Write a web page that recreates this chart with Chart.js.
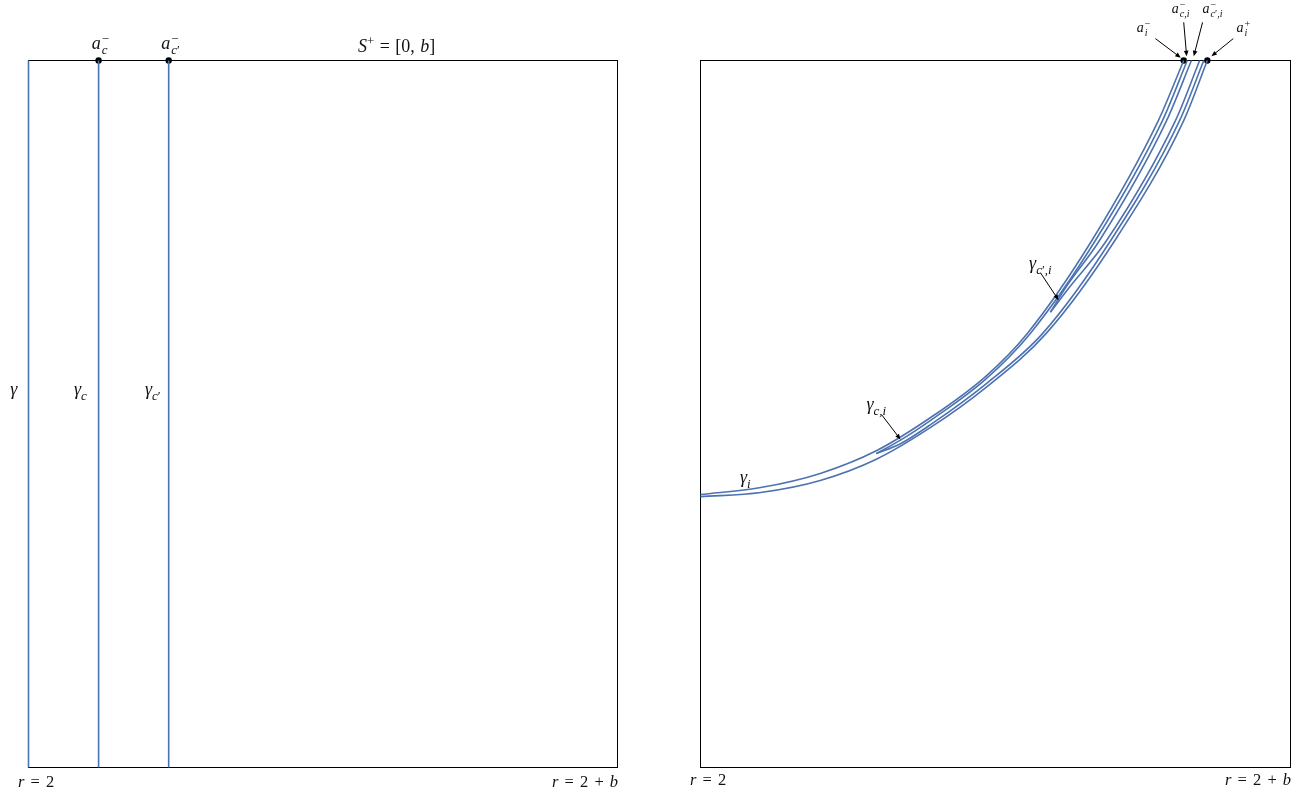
<!DOCTYPE html>
<html>
<head>
<meta charset="utf-8">
<script src="https://cdn.jsdelivr.net/npm/chart.js@4"></script>
<style>
  body { margin: 0; background: #fff; width: 1302px; height: 793px; position: relative; overflow: hidden; }
  canvas { position: absolute; top: 0; }
  #left { left: 0; }
  #right { left: 651px; }
  .lbl { position: absolute; font-family: "Liberation Serif", "DejaVu Serif", serif; font-style: italic; font-size: 18px;
         white-space: nowrap; transform: translate(-50%, -50%); color: #111; line-height: 1; word-spacing: 1px; }
  .lbl.small { font-size: 14px; }
  .lbl.axis { font-size: 16.5px; word-spacing: 2px; }
  .up { font-style: normal; }
  .lbl sub, .lbl sup { font-size: 0.72em; line-height: 0; }
  .ss { display: inline-block; font-size: 0.72em; line-height: 0.85; vertical-align: -0.35em; margin-left: 1px; text-align: left; }
  .ss > span { display: block; }
</style>
</head>
<body>
<canvas id="left" width="651" height="793"></canvas>
<canvas id="right" width="651" height="793"></canvas>
<script>
const blue = '#4c72b0';

// left panel: vertical curves gamma, gamma_c, gamma_c' at r-offsets (fraction of b)
const leftCurveX = [0, 0.119, 0.238];
const leftDotX = [0.119, 0.238];

// right panel: the six bent curves (x = (r-2)/b, y = height fraction)
const gammaUpperX = [0, 0.102, 0.203, 0.298, 0.390, 0.483, 0.554, 0.663, 0.776, 0.819];
const gammaUpperY = [0.386, 0.396, 0.416, 0.448, 0.495, 0.553, 0.614, 0.745, 0.915, 1.000];
const gammaLowerX = [0, 0.102, 0.203, 0.298, 0.390, 0.483, 0.586, 0.702, 0.819, 0.859];
const gammaLowerY = [0.383, 0.389, 0.406, 0.436, 0.481, 0.537, 0.614, 0.745, 0.915, 1.000];
const cUpperX = [0.298, 0.339, 0.390, 0.483, 0.559, 0.669, 0.783, 0.825];
const cUpperY = [0.444, 0.463, 0.491, 0.549, 0.614, 0.745, 0.915, 1.000];
const cLowerX = [0.298, 0.339, 0.390, 0.483, 0.580, 0.695, 0.812, 0.853];
const cLowerY = [0.444, 0.458, 0.485, 0.542, 0.614, 0.745, 0.915, 1.000];
const cpUpperX = [0.593, 0.619, 0.676, 0.790, 0.832];
const cpUpperY = [0.644, 0.679, 0.745, 0.915, 1.000];
const cpLowerX = [0.593, 0.625, 0.688, 0.805, 0.846];
const cpLowerY = [0.644, 0.679, 0.745, 0.915, 1.000];
const rightDotX = [0.819, 0.859];

function ss(sup, sub) {
  return '<span class="ss"><span class="up">' + sup + '</span><span>' + sub + '</span></span>';
}

const leftLabels = [
  { x: 0.122, y: 1.023, html: 'a' + ss('−', 'c') },
  { x: 0.241, y: 1.023, html: 'a' + ss('−', 'c<span class="up">′</span>') },
  { x: 0.625, y: 1.021, html: 'S<sup class="up">+</sup><span class="up"> = [0, </span>b<span class="up">]</span>' },
  { x: -0.025, y: 0.536, html: 'γ' },
  { x: 0.088, y: 0.536, html: 'γ<sub>c</sub>' },
  { x: 0.211, y: 0.536, html: 'γ<sub>c<span class="up">′</span></sub>' },
  { x: 0.013, y: -0.020, html: 'r<span class="up"> = 2</span>', cls: 'axis' },
  { x: 0.945, y: -0.020, html: 'r<span class="up"> = 2 + </span>b', cls: 'axis' }
];

const rightLabels = [
  { x: 0.076, y: 0.411, html: 'γ<sub>i</sub>' },
  { x: 0.298, y: 0.514, html: 'γ<sub>c,i</sub>' },
  { x: 0.576, y: 0.713, html: 'γ<sub>c<span class="up">′</span>,i</sub>' },
  { x: 0.751, y: 1.044, html: 'a' + ss('−', 'i'), cls: 'small' },
  { x: 0.814, y: 1.071, html: 'a' + ss('−', 'c,i'), cls: 'small' },
  { x: 0.868, y: 1.071, html: 'a' + ss('−', 'c<span class="up">′</span>,i'), cls: 'small' },
  { x: 0.920, y: 1.044, html: 'a' + ss('+', 'i'), cls: 'small' },
  { x: 0.013, y: -0.017, html: 'r<span class="up"> = 2</span>', cls: 'axis' },
  { x: 0.945, y: -0.017, html: 'r<span class="up"> = 2 + </span>b', cls: 'axis' }
];

// arrows: [x0, y0, x1, y1] in data units, head at the second point
const rightArrows = [
  [0.307, 0.499, 0.339, 0.464],
  [0.576, 0.700, 0.607, 0.661],
  [0.771, 1.031, 0.814, 1.004],
  [0.819, 1.054, 0.824, 1.006],
  [0.851, 1.054, 0.836, 1.006],
  [0.903, 1.031, 0.866, 1.006]
];

function pts(xs, ys) {
  return xs.map((x, i) => ({ x: x, y: ys[i] }));
}

function curve(xs, ys) {
  return {
    data: pts(xs, ys), showLine: true, borderColor: blue, borderWidth: 1.6,
    pointRadius: 0, cubicInterpolationMode: 'monotone', clip: false
  };
}

function dots(xs) {
  return {
    data: xs.map(x => ({ x: x, y: 1 })), showLine: false, pointRadius: 3.2,
    pointBackgroundColor: '#000', pointBorderWidth: 0, clip: false
  };
}

const framePlugin = {
  id: 'frame',
  beforeDatasetsDraw(chart) {
    const a = chart.chartArea, ctx = chart.ctx;
    ctx.save();
    ctx.strokeStyle = '#000';
    ctx.lineWidth = 1;
    ctx.strokeRect(a.left, a.top, a.right - a.left, a.bottom - a.top);
    ctx.restore();
  },
  afterDatasetsDraw(chart, args, opts) {
    const arrows = opts.arrows || [];
    const ctx = chart.ctx, sx = chart.scales.x, sy = chart.scales.y;
    ctx.save();
    ctx.strokeStyle = '#000';
    ctx.fillStyle = '#000';
    ctx.lineWidth = 1;
    for (const a of arrows) {
      const x0 = sx.getPixelForValue(a[0]), y0 = sy.getPixelForValue(a[1]);
      const x1 = sx.getPixelForValue(a[2]), y1 = sy.getPixelForValue(a[3]);
      const ang = Math.atan2(y1 - y0, x1 - x0);
      ctx.beginPath();
      ctx.moveTo(x0, y0);
      ctx.lineTo(x1 - 4 * Math.cos(ang), y1 - 4 * Math.sin(ang));
      ctx.stroke();
      ctx.beginPath();
      ctx.moveTo(x1, y1);
      ctx.lineTo(x1 - 6 * Math.cos(ang - 0.4), y1 - 6 * Math.sin(ang - 0.4));
      ctx.lineTo(x1 - 6 * Math.cos(ang + 0.4), y1 - 6 * Math.sin(ang + 0.4));
      ctx.closePath();
      ctx.fill();
    }
    ctx.restore();
  }
};

function makePanel(id, offset, padding, datasets, labels, arrows) {
  const chart = new Chart(document.getElementById(id), {
    type: 'scatter',
    data: { datasets: datasets },
    options: {
      responsive: false,
      animation: false,
      layout: { padding: padding },
      scales: {
        x: { type: 'linear', min: 0, max: 1, display: false },
        y: { type: 'linear', min: 0, max: 1, display: false }
      },
      plugins: { legend: { display: false }, tooltip: { enabled: false }, frame: { arrows: arrows } }
    },
    plugins: [framePlugin]
  });
  for (const l of labels) {
    const d = document.createElement('div');
    d.className = 'lbl' + (l.cls ? ' ' + l.cls : '');
    d.innerHTML = l.html;
    d.style.left = (chart.scales.x.getPixelForValue(l.x) + offset) + 'px';
    d.style.top = chart.scales.y.getPixelForValue(l.y) + 'px';
    document.body.appendChild(d);
  }
  return chart;
}

makePanel('left', 0, { left: 28.5, right: 33.5, top: 60.5, bottom: 25.5 },
  leftCurveX.map(x => curve([x, x], [0, 1])).concat([dots(leftDotX)]),
  leftLabels, []);

makePanel('right', 651, { left: 49.5, right: 11.5, top: 60.5, bottom: 25.5 },
  [
    curve(gammaUpperX, gammaUpperY),
    curve(gammaLowerX, gammaLowerY),
    curve(cUpperX, cUpperY),
    curve(cLowerX, cLowerY),
    curve(cpUpperX, cpUpperY),
    curve(cpLowerX, cpLowerY),
    dots(rightDotX)
  ],
  rightLabels, rightArrows);
</script>
</body>
</html>
